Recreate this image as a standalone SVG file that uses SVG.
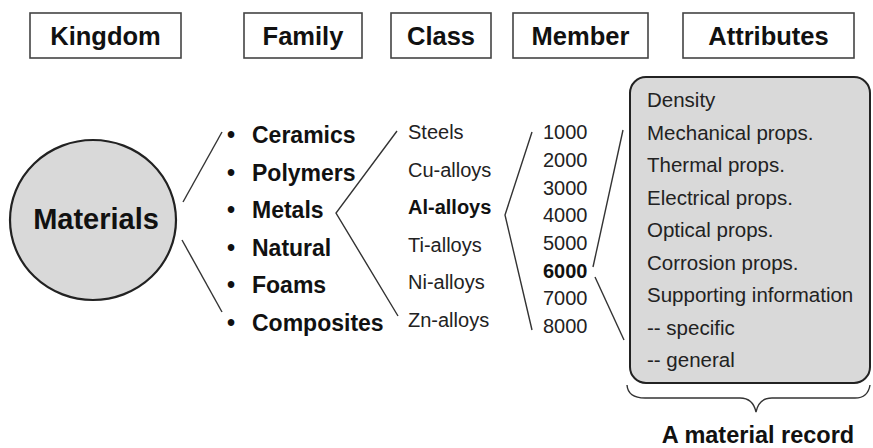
<svg xmlns="http://www.w3.org/2000/svg" width="873" height="448" viewBox="0 0 873 448">
<style>
.hbox{fill:#fff;stroke:#444;stroke-width:1.6}
.ht{font-family:"Liberation Sans",Arial,sans-serif;font-weight:bold;font-size:25.5px;fill:#111;text-anchor:middle}
.fam{font-family:"Liberation Sans",Arial,sans-serif;font-weight:bold;font-size:23px;fill:#111}
.cls{font-family:"Liberation Sans",Arial,sans-serif;font-size:20px;fill:#222}
.b{font-weight:bold;fill:#111}
.att{font-family:"Liberation Sans",Arial,sans-serif;font-size:20.5px;fill:#222}
.ln{stroke:#333;stroke-width:1.4;fill:none}
</style>
<rect width="873" height="448" fill="#fff"/>
<g id="h-kingdom"><rect class="hbox" x="30" y="13" width="151" height="45"/><text class="ht" x="105.5" y="44.5">Kingdom</text></g>
<g id="h-family"><rect class="hbox" x="244" y="13" width="118" height="45"/><text class="ht" x="303" y="44.5">Family</text></g>
<g id="h-class"><rect class="hbox" x="391" y="13" width="100" height="45"/><text class="ht" x="441" y="44.5">Class</text></g>
<g id="h-member"><rect class="hbox" x="513" y="13" width="135" height="45"/><text class="ht" x="580.5" y="44.5">Member</text></g>
<g id="h-attributes"><rect class="hbox" x="683" y="13" width="171" height="45"/><text class="ht" x="768.5" y="44.5">Attributes</text></g>

<g id="materials">
<ellipse cx="93" cy="220" rx="83" ry="80" fill="#d9d9d9" stroke="#222" stroke-width="2.2"/>
<text x="96" y="229" font-family="Liberation Sans,Arial,sans-serif" font-weight="bold" font-size="29" fill="#111" text-anchor="middle">Materials</text>
</g>

<g id="family" class="fam">
<text y="143"><tspan x="227">•</tspan><tspan x="252">Ceramics</tspan></text>
<text y="180.5"><tspan x="227">•</tspan><tspan x="252">Polymers</tspan></text>
<text y="218"><tspan x="227">•</tspan><tspan x="252">Metals</tspan></text>
<text y="255.5"><tspan x="227">•</tspan><tspan x="252">Natural</tspan></text>
<text y="293"><tspan x="227">•</tspan><tspan x="252">Foams</tspan></text>
<text y="330.5"><tspan x="227">•</tspan><tspan x="252">Composites</tspan></text>
</g>

<g id="class" class="cls">
<text x="408" y="139">Steels</text>
<text x="408" y="176.5">Cu-alloys</text>
<text x="408" y="214" class="b">Al-alloys</text>
<text x="408" y="251.5">Ti-alloys</text>
<text x="408" y="289">Ni-alloys</text>
<text x="408" y="326.5">Zn-alloys</text>
</g>

<g id="member" class="cls">
<text x="543" y="139">1000</text>
<text x="543" y="167">2000</text>
<text x="543" y="194.5">3000</text>
<text x="543" y="222">4000</text>
<text x="543" y="250">5000</text>
<text x="543" y="277.5" class="b">6000</text>
<text x="543" y="305">7000</text>
<text x="543" y="333">8000</text>
</g>

<g id="record">
<rect x="630" y="77" width="240" height="306" rx="16" ry="16" fill="#d9d9d9" stroke="#222" stroke-width="2"/>
<g class="att">
<text x="647" y="107">Density</text>
<text x="647" y="139.5">Mechanical props.</text>
<text x="647" y="172">Thermal props.</text>
<text x="647" y="204.5">Electrical props.</text>
<text x="647" y="237">Optical props.</text>
<text x="647" y="269.5">Corrosion props.</text>
<text x="647" y="302">Supporting information</text>
<text x="647" y="334.5">-- specific</text>
<text x="647" y="367">-- general</text>
</g>
</g>

<g id="brace">
<path class="ln" stroke-width="2" d="M627 385 Q628 398 645 398 L740 398 Q753 398 756 412 Q759 398 772 398 L855 398 Q868 398 870 385"/>
<text x="758" y="443" font-family="Liberation Sans,Arial,sans-serif" font-weight="bold" font-size="23.5" fill="#111" text-anchor="middle">A material record</text>
</g>

<g id="connectors" class="ln">
<line x1="183" y1="202" x2="222" y2="132"/>
<line x1="182" y1="240" x2="222" y2="312"/>
<polyline points="397,131 336,213 398,316"/>
<polyline points="532,132 505,215 532,330"/>
<line x1="593" y1="267" x2="623" y2="130"/>
<line x1="595" y1="277" x2="624" y2="340"/>
</g>
</svg>
